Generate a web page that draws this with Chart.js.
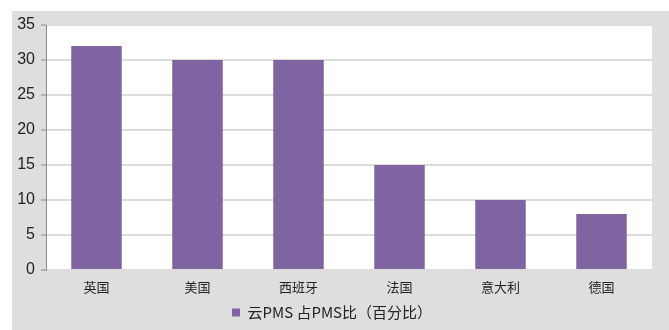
<!DOCTYPE html>
<html>
<head>
<meta charset="utf-8">
<script src="https://cdn.jsdelivr.net/npm/chart.js@4/dist/chart.umd.min.js"></script>
<style>
  html, body { margin: 0; padding: 0; background: #ffffff; }
  #wrap { width: 669px; height: 330px; position: relative; }
</style>
</head>
<body>
<div id="wrap"><canvas id="c" width="669" height="330"></canvas></div>
<script>
// Share of cloud PMS among all PMS, by country (percent)
const countries = ['英国', '美国', '西班牙', '法国', '意大利', '德国'];
const cloudShare = [32, 30, 30, 15, 10, 8];
const seriesName = '云PMS 占PMS比（百分比）';
const yTicks = [0, 5, 10, 15, 20, 25, 30, 35];

// Gray frame behind the chart with a white plot area
const framePlugin = {
  id: 'frame',
  beforeDraw(chart) {
    const { ctx, chartArea: a } = chart;
    ctx.save();
    ctx.fillStyle = '#ffffff';
    ctx.fillRect(0, 0, chart.width, chart.height);
    ctx.fillStyle = '#dedede';
    ctx.fillRect(12, 11, chart.width - 12, chart.height - 11);
    ctx.fillStyle = '#ffffff';
    ctx.fillRect(a.left, a.top, a.right - a.left, a.bottom - a.top);
    ctx.restore();
  }
};

new Chart(document.getElementById('c'), {
  type: 'bar',
  data: {
    labels: countries,
    datasets: [{
      label: seriesName,
      data: cloudShare,
      backgroundColor: '#8064a2',
      borderWidth: 0,
      barPercentage: 0.5,
      categoryPercentage: 1.0
    }]
  },
  options: {
    responsive: false,
    animation: false,
    devicePixelRatio: 1,
    layout: { padding: { left: 12, right: 17, top: 25, bottom: 0 } },
    scales: {
      y: {
        min: 0,
        max: 35,
        afterBuildTicks(scale) { scale.ticks = yTicks.map(v => ({ value: v })); },
        afterFit(scale) { scale.width = 34; },
        border: { display: true, color: '#8a8a8a', width: 1 },
        grid: {
          color: '#dcdcdc',
          lineWidth: 2,
          tickColor: '#8a8a8a',
          tickWidth: 1,
          tickLength: 5
        },
        ticks: {
          padding: 6,
          color: '#222222',
          font: { family: 'Liberation Sans, Arial, sans-serif', size: 16 }
        }
      },
      x: {
        afterFit(scale) { scale.height = 27; },
        border: { display: false },
        grid: { display: false },
        ticks: {
          padding: 1,
          color: '#222222',
          font: { family: '"Noto Sans CJK SC", sans-serif', size: 13 }
        }
      }
    },
    plugins: {
      legend: {
        position: 'bottom',
        labels: {
          boxWidth: 8,
          boxHeight: 8,
          padding: 8,
          color: '#222222',
          font: { family: '"Noto Sans CJK SC", sans-serif', size: 15 }
        }
      },
      tooltip: { enabled: false }
    }
  },
  plugins: [framePlugin]
});
</script>
</body>
</html>
